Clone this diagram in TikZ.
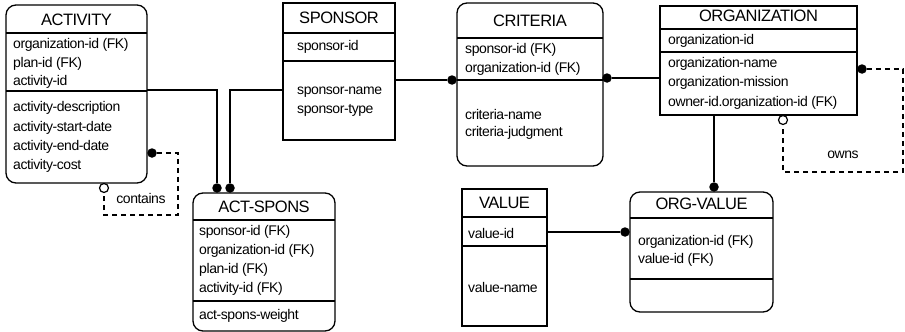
\documentclass[tikz,border=0pt]{standalone}
\usepackage{fontspec}
\setmainfont{Liberation Sans}[LetterSpace=-3]
\begin{document}
\begin{tikzpicture}[x=1pt,y=-1pt,
  ent/.style={draw, line width=1.3pt, anchor=north west, inner sep=0pt, outer sep=0pt},
  dep/.style={ent, rounded corners=10pt},
  ttl/.style={font=\fontsize{16.5}{18}\selectfont, anchor=center, inner sep=0pt},
  att/.style={font=\fontsize{14}{17}\selectfont, anchor=west, inner sep=0pt},
  link/.style={line width=1.3pt},
  rel/.style={link, dash pattern=on 5pt off 4pt},
  dot/.style={circle, fill=black, inner sep=0pt, minimum size=9.5pt},
  ring/.style={circle, draw, fill=white, line width=1.2pt, inner sep=0pt, minimum size=9pt}]
\useasboundingbox[fill=white] (0,0) rectangle (905,332);

% ---------- ACTIVITY ----------
\node[dep, minimum width=141pt, minimum height=178pt] (activity) at (6,5) {};
\draw[link] (activity.west |- 0,33) -- (activity.east |- 0,33);
\draw[link] (activity.west |- 0,91) -- (activity.east |- 0,91);
\node[ttl] (activity-t) at (76.5,20) {ACTIVITY};
\node[att] (activity-1) at (13,45) {organization-id (FK)};
\node[att] (activity-2) at (13,64) {plan-id (FK)};
\node[att] (activity-3) at (13,82) {activity-id};
\node[att] (activity-4) at (13,108) {activity-description};
\node[att] (activity-5) at (13,128) {activity-start-date};
\node[att] (activity-6) at (13,147) {activity-end-date};
\node[att] (activity-7) at (13,166) {activity-cost};

% ---------- SPONSOR ----------
\node[ent, minimum width=112pt, minimum height=137pt] (sponsor) at (283,3) {};
\draw[link] (sponsor.west |- 0,33) -- (sponsor.east |- 0,33);
\draw[link] (sponsor.west |- 0,61) -- (sponsor.east |- 0,61);
\node[ttl] (sponsor-t) at (339,18) {SPONSOR};
\node[att] (sponsor-1) at (297,47) {sponsor-id};
\node[att] (sponsor-2) at (297,92) {sponsor-name};
\node[att] (sponsor-3) at (297,110) {sponsor-type};

% ---------- CRITERIA ----------
\node[dep, minimum width=146pt, minimum height=163pt] (criteria) at (457,3) {};
\draw[link] (criteria.west |- 0,38) -- (criteria.east |- 0,38);
\draw[link] (criteria.west |- 0,80) -- (criteria.east |- 0,80);
\node[ttl] (criteria-t) at (530,21) {CRITERIA};
\node[att] (criteria-1) at (465,50) {sponsor-id (FK)};
\node[att] (criteria-2) at (465,69) {organization-id (FK)};
\node[att] (criteria-3) at (465,114) {criteria-name};
\node[att] (criteria-4) at (465,133) {criteria-judgment};

% ---------- ORGANIZATION ----------
\node[ent, minimum width=197pt, minimum height=109pt] (organization) at (660,6) {};
\draw[link] (organization.west |- 0,29) -- (organization.east |- 0,29);
\draw[link] (organization.west |- 0,52) -- (organization.east |- 0,52);
\node[ttl] (organization-t) at (758.5,16) {ORGANIZATION};
\node[att] (organization-1) at (668,41) {organization-id};
\node[att] (organization-2) at (668,64) {organization-name};
\node[att] (organization-3) at (668,83) {organization-mission};
\node[att] (organization-4) at (668,103) {owner-id.organization-id (FK)};

% ---------- ACT-SPONS ----------
\node[dep, minimum width=142pt, minimum height=138pt] (actspons) at (193,193) {};
\draw[link] (actspons.west |- 0,220) -- (actspons.east |- 0,220);
\draw[link] (actspons.west |- 0,301) -- (actspons.east |- 0,301);
\node[ttl] (actspons-t) at (264,207) {ACT-SPONS};
\node[att] (actspons-1) at (199,232) {sponsor-id (FK)};
\node[att] (actspons-2) at (199,251) {organization-id (FK)};
\node[att] (actspons-3) at (199,270) {plan-id (FK)};
\node[att] (actspons-4) at (199,289) {activity-id (FK)};
\node[att] (actspons-5) at (199,316) {act-spons-weight};

% ---------- VALUE ----------
\node[ent, minimum width=85pt, minimum height=137pt] (value) at (462,189) {};
\draw[link] (value.west |- 0,217) -- (value.east |- 0,217);
\draw[link] (value.west |- 0,246) -- (value.east |- 0,246);
\node[ttl] (value-t) at (504.5,203) {VALUE};
\node[att] (value-1) at (468,233) {value-id};
\node[att] (value-2) at (468,287) {value-name};

% ---------- ORG-VALUE ----------
\node[dep, minimum width=143pt, minimum height=120pt] (orgvalue) at (630,192) {};
\draw[link] (orgvalue.west |- 0,218) -- (orgvalue.east |- 0,218);
\draw[link] (orgvalue.west |- 0,279) -- (orgvalue.east |- 0,279);
\node[ttl] (orgvalue-t) at (701.5,204) {ORG-VALUE};
\node[att] (orgvalue-1) at (638,242) {organization-id (FK)};
\node[att] (orgvalue-2) at (638,260) {value-id (FK)};

% ---------- relationship ends ----------
\node[dot] (d-act-as) at (217,188) {};
\node[dot] (d-spo-as) at (230,188) {};
\node[dot] (d-spo-cr) at (452,80) {};
\node[dot] (d-cr-org) at (607,78) {};
\node[dot] (d-org-ov) at (714,187) {};
\node[dot] (d-val-ov) at (625,232) {};
\node[dot] (d-contains) at (152,153) {};
\node[dot] (d-owns) at (862,69) {};
\node[ring] (r-contains) at (104,188) {};
\node[ring] (r-owns) at (783,120) {};

% ---------- identifying relationships ----------
\draw[link] (activity.east |- 0,90) -| (d-act-as);
\draw[link] (sponsor.west |- 0,90) -| (d-spo-as);
\draw[link] (sponsor.east |- d-spo-cr) -- (d-spo-cr);
\draw[link] (d-cr-org) -- (organization.west |- d-cr-org);
\draw[link] (organization.south -| d-org-ov) -- (d-org-ov);
\draw[link] (value.east |- d-val-ov) -- (d-val-ov);

% ---------- recursive relationships ----------
\draw[rel] (d-contains) -- ++(26,0) |- (r-contains |- 0,215) -- (r-contains.south);
\draw[rel] (d-owns) -- ++(41,0) |- (r-owns |- 0,172) -- (r-owns.south);
\node[att, anchor=center] (contains-lbl) at (141,198) {contains};
\node[att, anchor=center] (owns-lbl) at (843,155) {owns};
\end{tikzpicture}
\end{document}
